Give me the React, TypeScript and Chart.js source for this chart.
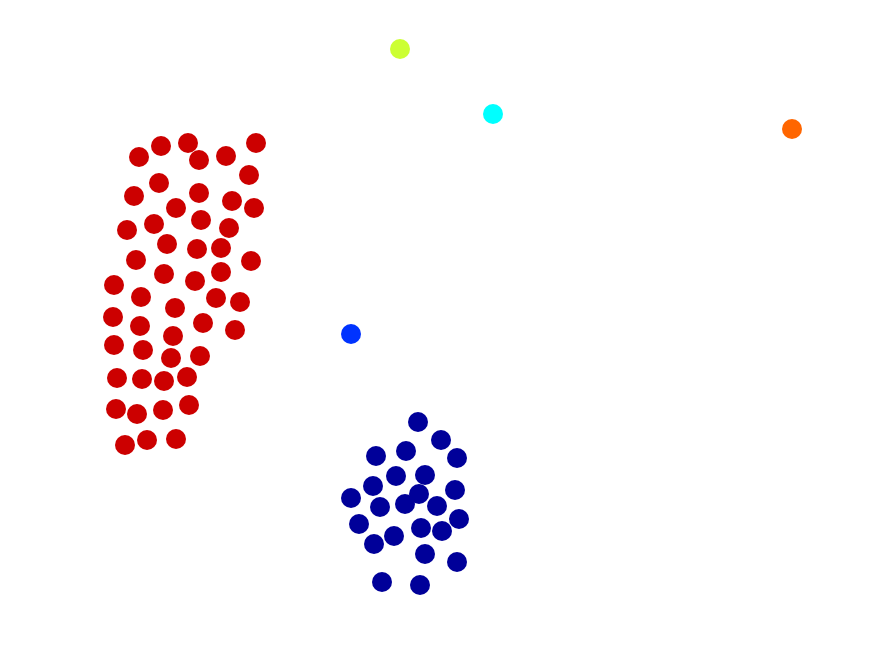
import React, { useEffect, useRef } from "react";
import { Chart, registerables } from "chart.js";

Chart.register(...registerables);

// Coordinates in the plot's own unit space (0..875 horizontally, 0..656 vertically, y downward)
const redX = [139, 161, 188, 199, 226, 256, 249, 159, 134, 199, 232, 254, 176, 154, 201, 127, 229, 167, 197, 221, 136, 251, 164, 195, 221, 114,
  141, 175, 216, 240, 113, 140, 203, 235, 173, 114, 143, 171, 200, 117, 142, 164, 187, 116, 137, 163, 189, 125, 147, 176];
const redY = [157, 146, 143, 160, 156, 143, 175, 183, 196, 193, 201, 208, 208, 224, 220, 230, 228, 244, 249, 248, 260, 261, 274, 281, 272, 285,
  297, 308, 298, 302, 317, 326, 323, 330, 336, 345, 350, 358, 356, 378, 379, 381, 377, 409, 414, 410, 405, 445, 440, 439];

const navyX = [418, 441, 376, 406, 457, 396, 425, 373, 419, 455, 351, 380, 405, 437, 459, 359, 421, 442, 394, 374, 425, 457, 382, 420];
const navyY = [422, 440, 456, 451, 458, 476, 475, 486, 494, 490, 498, 507, 504, 506, 519, 524, 528, 531, 536, 544, 554, 562, 582, 585];

const singleX = [351, 493, 400, 792];
const singleY = [334, 114, 49, 129];
const singleColors = ["#0033ff", "#00ffff", "#ccff33", "#ff6600"];

const toPts = (xs: number[], ys: number[]) => xs.map((x, i) => ({ x, y: ys[i] }));

export default function App() {
  const ref = useRef<HTMLCanvasElement | null>(null);
  useEffect(() => {
    if (!ref.current) return;
    const chart = new Chart(ref.current, {
      type: "scatter",
      data: {
        datasets: [
          {
            data: toPts(redX, redY),
            backgroundColor: "#cc0000",
            borderWidth: 0,
            pointRadius: 10,
          },
          {
            data: toPts(navyX, navyY),
            backgroundColor: "#000099",
            borderWidth: 0,
            pointRadius: 10,
          },
          {
            data: toPts(singleX, singleY),
            backgroundColor: singleColors,
            borderWidth: 0,
            pointRadius: 10,
          },
        ],
      },
      options: {
        animation: false,
        responsive: false,
        maintainAspectRatio: false,
        layout: { padding: 0, autoPadding: false },
        plugins: { legend: { display: false }, tooltip: { enabled: false }, title: { display: false } },
        scales: {
          x: { type: "linear", min: 0, max: 875, display: false },
          y: { type: "linear", min: 0, max: 656, reverse: true, display: false },
        },
      },
    });
    return () => chart.destroy();
  }, []);
  return (
    <div style={{ position: "fixed", left: 0, top: 0, width: 875, height: 656, background: "#fff" }}>
      <canvas ref={ref} width={875} height={656} style={{ display: "block" }} />
    </div>
  );
}
